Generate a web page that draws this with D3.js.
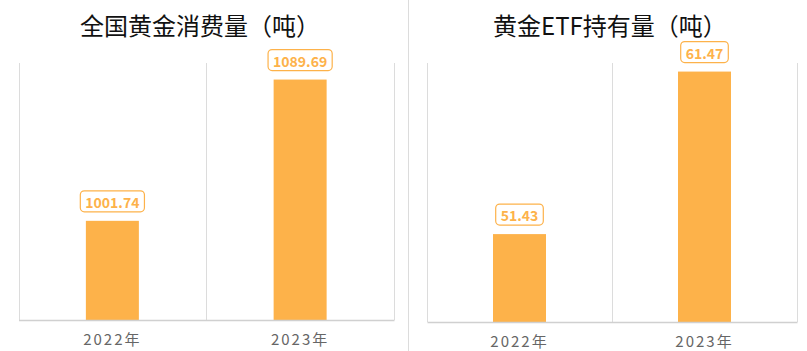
<!DOCTYPE html>
<html><head><meta charset="utf-8">
<script src="https://cdn.jsdelivr.net/npm/d3@7"></script>
<style>body{margin:0;background:#fff}svg{display:block}</style>
</head><body>
<svg id="c" width="807" height="351"></svg>
<script>
const categories = ["2022年", "2023年"];
const consumptionValues = [1001.74, 1089.69];
const etfValues = [51.43, 61.47];
const titles = ["全国黄金消费量（吨）", "黄金ETF持有量（吨）"];
const consumptionDomain = [940, 1100];
const etfDomain = [46, 62];

const svg = d3.select("#c");
const barColor = "#FDB24A";
const gridColor = "#DCDCDC";
const font = "'Noto Sans CJK SC', 'Noto Sans', sans-serif";

// divider
svg.append("line").attr("x1", 408.5).attr("x2", 408.5).attr("y1", 0).attr("y2", 351)
  .attr("stroke", gridColor).attr("stroke-width", 1);

function panel(cfg) {
  const g = svg.append("g");
  const x = d3.scaleBand().domain(categories).range([cfg.x0, cfg.x1]).padding(0);
  const y = d3.scaleLinear().domain(cfg.domain).range([cfg.base, cfg.top]);
  const bw = 53;

  g.append("text").attr("x", cfg.titleX).attr("y", 35).attr("text-anchor", "middle")
    .attr("font-family", font).attr("font-size", 24).attr("fill", "#111").text(cfg.title);

  // vertical grid lines at band boundaries
  const bounds = categories.map(c => x(c)).concat([cfg.x1]);
  g.selectAll("line.grid").data(bounds).join("line")
    .attr("x1", d => Math.round(d) + 0.5).attr("x2", d => Math.round(d) + 0.5)
    .attr("y1", cfg.top).attr("y2", cfg.base)
    .attr("stroke", gridColor);

  g.selectAll("rect.bar").data(cfg.values).join("rect")
    .attr("x", (d, i) => x(categories[i]) + x.bandwidth() / 2 - bw / 2)
    .attr("width", bw)
    .attr("y", d => y(d))
    .attr("height", d => cfg.base - y(d))
    .attr("fill", barColor);

  // baseline axis
  const ax = g.append("g").attr("transform", `translate(0,${cfg.base})`)
    .call(d3.axisBottom(x).tickSize(0).tickPadding(14));
  ax.select(".domain").attr("stroke", "#D0D0D0").attr("stroke-width", 1.5);
  ax.selectAll("text").attr("font-family", font).attr("font-size", 15)
    .attr("fill", "#666").attr("letter-spacing", "2px");

  // value labels
  cfg.values.forEach((v, i) => {
    const cx = x(categories[i]) + x.bandwidth() / 2;
    const lg = g.append("g");
    const t = lg.append("text").attr("x", cx).attr("y", y(v) - 13)
      .attr("text-anchor", "middle").attr("font-family", font).attr("font-weight", "bold")
      .attr("font-size", 14).attr("fill", barColor).text(v.toFixed(2));
    const w = t.node().getComputedTextLength() + 10;
    lg.insert("rect", "text").attr("x", cx - w / 2).attr("y", y(v) - 30)
      .attr("width", w).attr("height", 21).attr("rx", 4)
      .attr("fill", "#fff").attr("stroke", barColor).attr("stroke-width", 1.2);
  });
}

panel({ title: titles[0], titleX: 200, x0: 18.5, x1: 394, top: 63, base: 320,
        domain: consumptionDomain, values: consumptionValues });
panel({ title: titles[1], titleX: 610, x0: 427, x1: 797, top: 63, base: 322,
        domain: etfDomain, values: etfValues });
</script>
</body></html>
